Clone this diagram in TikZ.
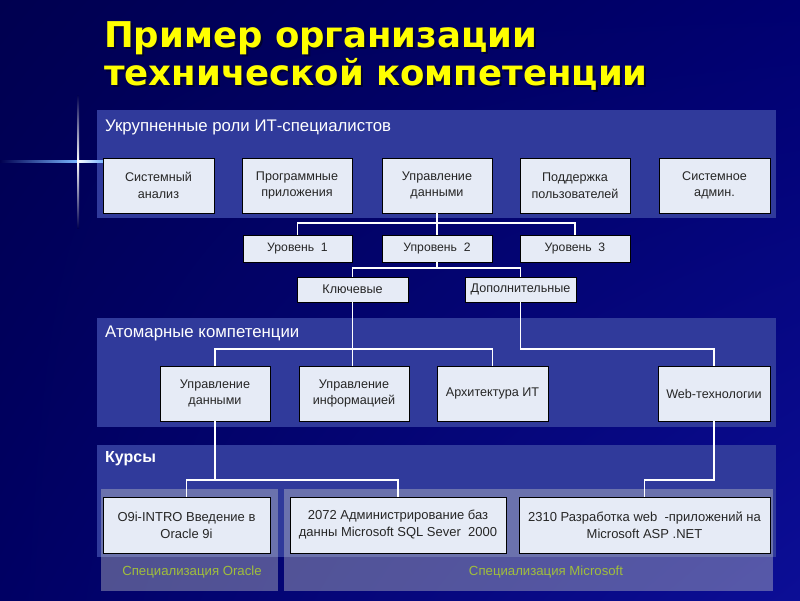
\documentclass[tikz,border=0pt]{standalone}
\usepackage{fontspec}
\setmainfont{Liberation Sans}
\newfontfamily\titlefont{DejaVu Sans}
\usetikzlibrary{shadows,shadings}
\definecolor{bgA}{RGB}{0,0,80}
\definecolor{bgB}{RGB}{0,0,112}
\definecolor{bgC}{RGB}{0,0,100}
\definecolor{bgD}{RGB}{12,14,150}
\definecolor{panelc}{RGB}{48,58,155}
\definecolor{subc}{RGB}{190,192,200}
\definecolor{boxfill}{RGB}{230,235,246}
\definecolor{titley}{RGB}{255,255,0}
\definecolor{specc}{RGB}{160,190,60}
\definecolor{sparkc}{RGB}{120,180,255}
\tikzset{
  panel/.style={fill=panelc, draw=none},
  subpanel/.style={fill=subc, fill opacity=0.42, draw=none},
  box/.style={draw=black, line width=0.8pt, fill=boxfill, align=center, inner sep=0pt,
    font=\fontsize{12.6}{16.5}\selectfont, text=black!85,
    drop shadow={shadow xshift=1.2pt, shadow yshift=-1.2pt, fill=black, opacity=1}},
  lbox/.style={box, font=\fontsize{12.2}{15}\selectfont},
  cbox/.style={box, font=\fontsize{13}{17}\selectfont},
  conn/.style={draw=white, line width=1.2pt},
  ptitle/.style={anchor=west, text=white, font=\fontsize{16.8}{19}\selectfont, inner sep=0pt},
  spec/.style={text=specc, font=\fontsize{13.2}{15}\selectfont, inner sep=0pt},
  mtitle/.style={anchor=base west, inner sep=0pt, font=\titlefont\fontsize{35.5}{42}\bfseries},
}
\begin{document}
\begin{tikzpicture}[x=1pt,y=-1pt]
\useasboundingbox (0,0) rectangle (800,600);
\shade[upper left=bgA, upper right=bgB, lower left=bgC, lower right=bgD] (0,0) rectangle (800,600);
% title
\node[mtitle, text=black!80!blue] (t1s) at (106,49) {Пример организации};
\node[mtitle, text=titley] (t1) at (104,47) {Пример организации};
\node[mtitle, text=black!80!blue] (t2s) at (106,87) {технической компетенции};
\node[mtitle, text=titley] (t2) at (104,85) {технической компетенции};
% panels
\path[panel] (97,110) rectangle (776,218);
\path[panel] (97,318) rectangle (776,427);
\path[panel] (97,445) rectangle (776,557);
\path[subpanel] (101,489) rectangle (278,591);
\path[subpanel] (284,489) rectangle (773,591);
% sparkle
\shade[left color=bgA, right color=sparkc] (0,160) rectangle (77,162);
\shade[left color=white, right color=sparkc] (77,160) rectangle (103,162);
\shade[top color=bgA, bottom color=white] (77,95) rectangle (79,161);
\shade[top color=white, bottom color=bgA] (77,161) rectangle (79,228);
% panel titles
\node[ptitle] (p1) at (105,127) {Укрупненные роли ИТ-специалистов};
\node[ptitle] (p2) at (105,333) {Атомарные компетенции};
\node[ptitle, font=\fontsize{16}{19}\bfseries] (p3) at (105,459) {Курсы};
\node[spec] (so) at (192,572) {Специализация Oracle};
\node[spec] (sm) at (546,572) {Специализация Microsoft};
% top row
\node[box, minimum width=111, minimum height=55] (s1) at (158.5,185.5) {Системный\\анализ};
\node[box, minimum width=110, minimum height=55] (s2) at (297,185.5) {Программные\\приложения};
\node[box, minimum width=110, minimum height=55] (s3) at (437,185.5) {Управление\\данными};
\node[box, minimum width=110, minimum height=55] (s4) at (575,185.5) {Поддержка\\пользователей};
\node[box, minimum width=111, minimum height=55] (s5) at (714.5,185.5) {Системное\\админ.};
% levels
\node[lbox, minimum width=109, minimum height=27] (l1) at (297.5,248.5) {Уровень\ \ 1};
\node[lbox, minimum width=110, minimum height=27] (l2) at (437,248.5) {Упровень\ \ 2};
\node[lbox, minimum width=110, minimum height=27] (l3) at (575,248.5) {Уровень\ \ 3};
\node[box, minimum width=111, minimum height=25] (k) at (352.5,289.5) {Ключевые};
\node[box, minimum width=111, minimum height=25] (d) at (520.5,289.5) {Дополнительные};
% atomic
\node[box, minimum width=110, minimum height=55] (a1) at (215,393.5) {Управление\\данными};
\node[box, minimum width=110, minimum height=55] (a2) at (354,393.5) {Управление\\информацией};
\node[box, minimum width=111, minimum height=55] (a3) at (492.5,393.5) {Архитектура ИТ};
\node[box, minimum width=112, minimum height=55] (a4) at (714,393.5) {Web-технологии};
% courses
\node[cbox, minimum width=167, minimum height=56] (c1) at (186.5,525) {O9i-INTRO Введение в\\Oracle 9i};
\node[cbox, minimum width=216, minimum height=56] (c2) at (398,525) {2072 Администрирование баз\\данны Microsoft SQL Sever\ \ 2000};
\node[cbox, minimum width=251, minimum height=56] (c3) at (644.5,525) {2310 Разработка web\ \ -приложений на\\Microsoft ASP .NET};
% connectors
\coordinate (j1) at (437,223);
\coordinate (j2) at (437,268);
\coordinate (j3) at (437,349);
\coordinate (j4) at (437,480);
\draw[conn] (s3.south) -- (l2.north);
\draw[conn] (l1.north) -- (l1.north |- j1) -- (l3.north |- j1) -- (l3.north);
\draw[conn] (l2.south) -- (l2.south |- j2);
\draw[conn] (k.north) -- (k.north |- j2) -- (d.north |- j2) -- (d.north);
\draw[conn] (k.south) -- (k.south |- a2.north);
\draw[conn] (a1.north) -- (a1.north |- j3) -- (a3.north |- j3) -- (a3.north);
\draw[conn] (d.south) -- (d.south |- j3) -- (a4.north |- j3) -- (a4.north);
\draw[conn] (a1.south) -- (a1.south |- j4);
\draw[conn] (c1.north) -- (c1.north |- j4) -- (c2.north |- j4) -- (c2.north);
\draw[conn] (a4.south) -- (a4.south |- j4) -- (c3.north |- j4) -- (c3.north);
\end{tikzpicture}
\end{document}
